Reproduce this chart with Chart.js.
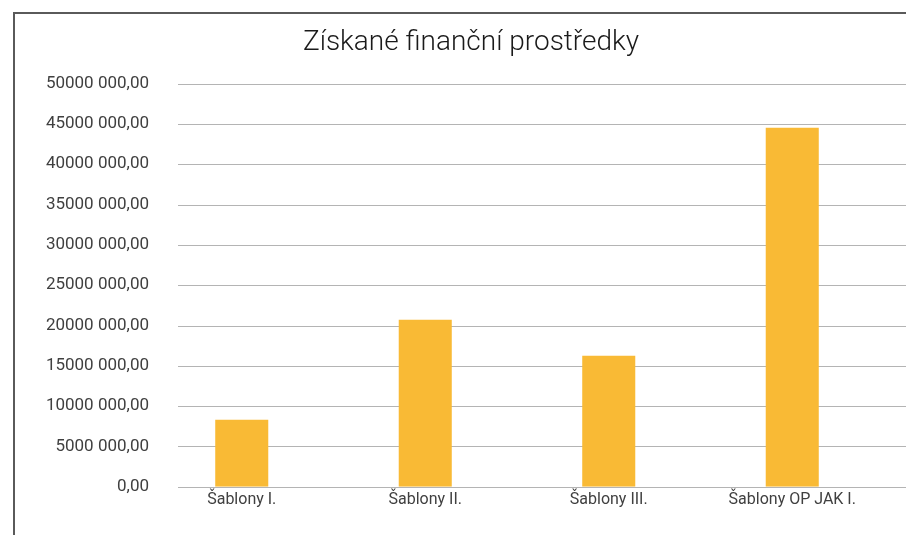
<!DOCTYPE html>
<html>
<head>
<meta charset="utf-8">
<script src="https://cdn.jsdelivr.net/npm/chart.js@4"></script>
<style>
  body { margin: 0; background: #fff; }
  #wrap { position: relative; width: 906px; height: 535px; overflow: hidden; }
  #frame { position: absolute; left: 13px; top: 12px; right: -4px; bottom: -4px;
           border-left: 2px solid #5a5a5a; border-top: 2px solid #5a5a5a; pointer-events: none; }
</style>
</head>
<body>
<div id="wrap">
  <canvas id="chart" width="906" height="535"></canvas>
  <div id="frame"></div>
</div>
<script>
const labels = ['Šablony I.', 'Šablony II.', 'Šablony III.', 'Šablony OP JAK I.'];
const values = [8310000, 20720000, 16250000, 44540000];
const yMax = 50000000;
const yStep = 5000000;

function formatCzk(v) {
  if (v < 1000) return v + ',00';
  const head = Math.floor(v / 1000);
  const tail = String(v % 1000).padStart(3, '0');
  return head + ' ' + tail + ',00';
}

// gridlines start a bit right of the plot edge and run to the window edge
const gridPlugin = {
  id: 'sideGrid',
  afterLayout(chart) {
    // let the long y labels spill into the left padding instead of being clipped
    chart.scales.y.left = 0;
  },
  beforeDatasetsDraw(chart) {
    const ctx = chart.ctx;
    const y = chart.scales.y;
    ctx.save();
    ctx.strokeStyle = '#b4b4b4';
    ctx.lineWidth = 1;
    y.ticks.forEach(t => {
      const py = Math.round(y.getPixelForValue(t.value)) + 0.5;
      ctx.beginPath();
      ctx.moveTo(chart.chartArea.left + 28, py);
      ctx.lineTo(chart.width, py);
      ctx.stroke();
    });
    ctx.restore();
  }
};

Chart.defaults.color = '#404040';
Chart.defaults.font.family = 'Roboto';

const data = {
  labels: labels,
  datasets: [{
    data: values,
    backgroundColor: '#F9BA35',
    barPercentage: 0.289,
    categoryPercentage: 1
  }]
};

const config = {
  type: 'bar',
  data: data,
  plugins: [gridPlugin],
  options: {
    responsive: false,
    animation: false,
    layout: { padding: { left: 58, right: 22, top: 0, bottom: 21 } },
    plugins: {
      legend: { display: false },
      tooltip: { enabled: false },
      title: {
        display: true,
        text: 'Získané finanční prostředky',
        color: '#1a1a1a',
        font: { size: 28, weight: '300' },
        padding: { top: 26, bottom: 24 }
      }
    },
    scales: {
      x: {
        grid: { display: false, drawTicks: false },
        border: { display: false },
        ticks: { padding: 4, font: { size: 16 } }
      },
      y: {
        min: 0,
        max: yMax,
        afterFit: s => { s.width = 92; },
        grid: { display: false, drawTicks: false },
        border: { display: false },
        ticks: {
          stepSize: yStep,
          padding: 1,
          font: { size: 17 },
          callback: v => formatCzk(v)
        }
      }
    }
  }
};

new Chart(document.getElementById('chart'), config);
</script>
</body>
</html>
